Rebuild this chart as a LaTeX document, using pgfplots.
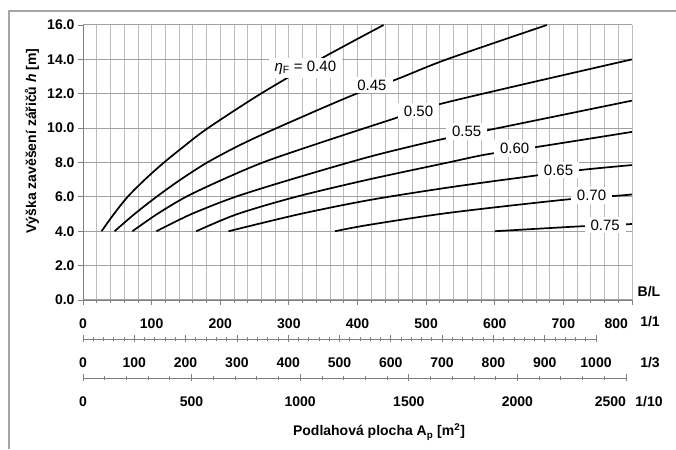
\documentclass[border=0pt]{standalone}
\usepackage{fontspec}
\setmainfont{Liberation Sans}
\usepackage{pgfplots}
\pgfplotsset{compat=1.18}
\definecolor{axisgray}{HTML}{7F7F7F}
\definecolor{hgrid}{HTML}{A0A0A0}
\definecolor{vgrid}{HTML}{BDBDBD}
\pgfplotsset{
  scalebar/.style={
    scale only axis, height=20pt, ymin=0, ymax=1,
    axis x line*=bottom, axis y line=none, ytick=\empty,
    axis line style={axisgray, line width=0.9pt},
    tick style={axisgray, line width=0.8pt},
    tick align=center, major tick length=7pt, minor tick length=4pt,
    /pgf/number format/assume math mode=true,
    /pgf/number format/1000 sep={},
    ticklabel style={font=\fontsize{14}{16}\selectfont\bfseries},
    xticklabel style={yshift=-12pt},
  }
}
\begin{document}
\begin{tikzpicture}[x=1pt,y=1pt,font=\fontsize{14}{16}\selectfont]
\useasboundingbox (0,0) rectangle (676,449);
\draw[gray!70, line width=1.2pt] (9,0) -- (9,438) -- (676,438);

\begin{axis}[
  at={(83pt,149pt)}, anchor=south west, scale only axis,
  width=549pt, height=275pt,
  xmin=0, xmax=800, ymin=0, ymax=16,
  axis lines*=left,
  axis line style={axisgray, line width=0.9pt},
  xtick={0,100,...,800}, minor x tick num=4,
  xticklabels={0,100,200,300,400,500,600,700,{\makebox[0pt][r]{800\hspace{4pt}}}},
  ytick={0,2,...,16},
  yticklabel style={/pgf/number format/.cd, fixed, fixed zerofill, precision=1},
  tick align=outside, major tick length=5pt, minor tick length=3pt,
  tick style={axisgray, line width=0.8pt},
  xmajorgrids, xminorgrids, ymajorgrids,
  major x grid style={vgrid, line width=0.8pt},
  minor x grid style={vgrid, line width=0.8pt},
  major y grid style={hgrid, line width=1pt},
  /pgf/number format/assume math mode=true,
  ticklabel style={font=\fontsize{14}{16}\selectfont\bfseries},
  xticklabel style={yshift=-10pt},
  every axis plot post/.append style={black, solid, line width=1.7pt, mark=none, smooth},
]
% eta = 0.40
\addplot coordinates {(27,4) (45,5) (65,6) (90,7) (118,8) (149,9) (182,10) (259,12) (345,14) (438,16)};
% eta = 0.45
\addplot coordinates {(46,4) (75,5) (107,6) (142,7) (181,8) (228,9) (282,10) (392,11.9) (457,12.84) (530,14.0) (676,16)};
% eta = 0.50
\addplot coordinates {(72,4) (108,5) (150,6) (203,7) (262,8) (336,9.02) (447,10.47) (528,11.48) (800,14.0)};
% eta = 0.55
\addplot coordinates {(107,4) (158,5) (222,6) (306,7.05) (418,8.34) (518,9.31) (596,9.93) (800,11.6)};
% eta = 0.60
\addplot coordinates {(165,4) (225,5) (310,6) (415,7) (532,8) (588,8.47) (664,8.92) (800,9.78)};
% eta = 0.65
\addplot coordinates {(212,4) (316,5.0) (418,5.82) (535,6.56) (652,7.2) (729,7.58) (800,7.85)};
% eta = 0.70
\addplot coordinates {(367,4) (418,4.38) (535,5.08) (703,5.84) (780,6.07) (800,6.14)};
% eta = 0.75
\addplot coordinates {(600,4) (722,4.28) (800,4.42)};

\begin{scope}[every node/.style={fill=white, inner xsep=6pt, inner ysep=3pt, font=\fontsize{15}{17}\selectfont}]
\node at (axis cs:324,13.5) {{\itshape η}\textsubscript{F} = 0.40};
\node at (axis cs:421,12.5) {0.45};
\node at (axis cs:489,11.0) {0.50};
\node at (axis cs:559,9.8) {0.55};
\node at (axis cs:629,8.82) {0.60};
\node at (axis cs:693,7.56) {0.65};
\node at (axis cs:741,6.07) {0.70};
\node at (axis cs:761,4.36) {0.75};
\end{scope}
\end{axis}

% B/L = 1/3 scale
\begin{axis}[scalebar, at={(83pt,110pt)}, anchor=south west, width=513pt,
  xmin=0, xmax=1000, xtick={0,100,...,1000}, minor x tick num=4]
\end{axis}

% B/L = 1/10 scale
\begin{axis}[scalebar, at={(83pt,71pt)}, anchor=south west, width=543pt,
  xmin=0, xmax=2500, xtick={0,500,...,2500}, minor x tick num=4,
  xticklabels={0,500,1000,1500,2000,{\makebox[0pt][r]{2500}}}]
\end{axis}

\begin{scope}[font=\fontsize{14}{16}\selectfont\bfseries]
\node at (649,157) {B/L};
\node at (650,127) {1/1};
\node at (650,86) {1/3};
\node at (649,47) {1/10};
\node at (379,17) {Podlahová plocha A\textsubscript{p} [m\textsuperscript{2}]};
\node[rotate=90] at (32,308) {Výška zavěšení zářičů \textit{h} [m]};
\end{scope}
\end{tikzpicture}
\end{document}
